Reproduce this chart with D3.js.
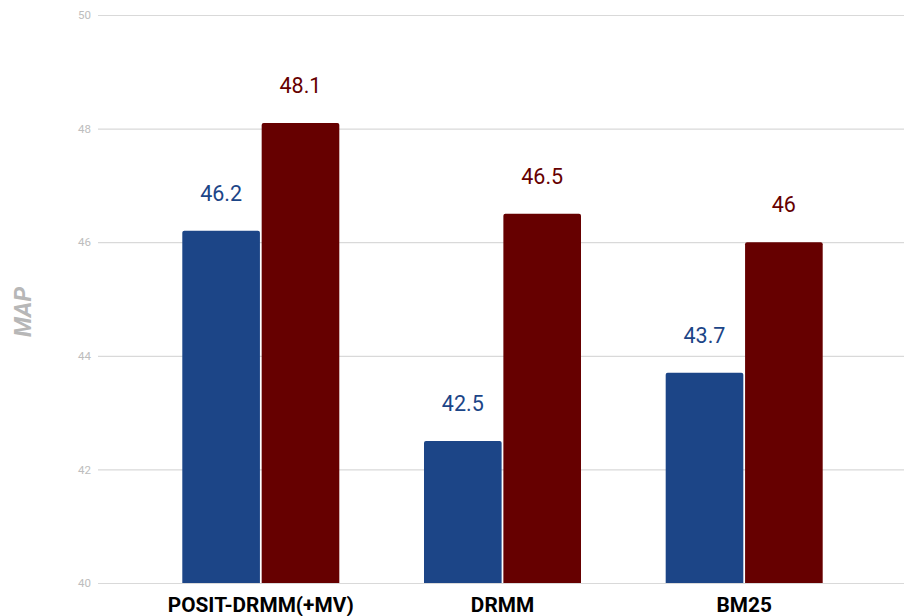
<!DOCTYPE html>
<html>
<head>
<meta charset="utf-8">
<script src="https://cdn.jsdelivr.net/npm/d3@7"></script>
<style>
  html, body { margin: 0; padding: 0; background: #fff; }
  svg { display: block; font-family: Roboto, "Noto Sans", sans-serif; }
</style>
</head>
<body>
<svg id="chart" width="904" height="616"></svg>
<script>
// Categories and MAP scores for the two series
const categories = ["POSIT-DRMM(+MV)", "DRMM", "BM25"];
const seriesA = [46.2, 42.5, 43.7];
const seriesB = [48.1, 46.5, 46.0];
const seriesColors = ["#1c4587", "#660000"];
const yTicks = [40, 42, 44, 46, 48, 50];

const svg = d3.select("#chart");
const plotLeft = 98, plotRight = 904, plotTop = 15, plotBottom = 583;

const x = d3.scaleBand().domain(categories).range([100, 905])
  .paddingInner(0.3504).paddingOuter(0.3405);
const inner = d3.scaleBand().domain([0, 1]).range([0, x.bandwidth()]).paddingInner(0.022);
const y = d3.scaleLinear().domain([40, 50]).range([plotBottom, plotTop]);

// Gridlines and y tick labels
const yAxis = d3.axisLeft(y).tickValues(yTicks).tickSize(-(plotRight - plotLeft)).tickPadding(7).tickFormat(d3.format("d"));
const gy = svg.append("g").attr("transform", `translate(${plotLeft},0)`).call(yAxis);
gy.select(".domain").remove();
gy.selectAll(".tick line").attr("stroke", "#d9d9d9").attr("stroke-width", 1.2);
gy.selectAll(".tick text").attr("fill", "#bdbdbd").attr("font-size", 11.5)
  .attr("font-family", "Roboto, sans-serif");

// Y axis title
svg.append("text")
  .attr("transform", `translate(31,312) rotate(-90)`)
  .attr("text-anchor", "middle")
  .attr("font-size", 23.5).attr("font-weight", "bold").attr("font-style", "italic")
  .attr("fill", "#b7b7b7").text("MAP");

const rows = categories.map((c, i) => ({ c, vals: [seriesA[i], seriesB[i]] }));
const groups = svg.append("g").selectAll("g").data(rows).join("g")
  .attr("transform", d => `translate(${x(d.c)},0)`);

// Bars with slightly rounded top corners
function barPath(x0, w, yTop, yBot, r) {
  return `M${x0},${yBot}V${yTop + r}Q${x0},${yTop} ${x0 + r},${yTop}H${x0 + w - r}Q${x0 + w},${yTop} ${x0 + w},${yTop + r}V${yBot}Z`;
}
groups.selectAll("path").data(d => d.vals.map((v, k) => ({ v, k }))).join("path")
  .attr("d", d => barPath(inner(d.k), inner.bandwidth(), y(d.v), y(40), 2))
  .attr("fill", d => seriesColors[d.k]);

// Value labels
groups.selectAll("text.val").data(d => d.vals.map((v, k) => ({ v, k }))).join("text")
  .attr("class", "val")
  .attr("x", d => inner(d.k) + inner.bandwidth() / 2)
  .attr("y", d => y(d.v) - 30)
  .attr("text-anchor", "middle")
  .attr("font-size", 21.5)
  .attr("fill", d => seriesColors[d.k])
  .text(d => d3.format("")(d.v));

// Category labels
svg.append("g").selectAll("text").data(categories).join("text")
  .attr("x", d => x(d) + x.bandwidth() / 2)
  .attr("y", 612)
  .attr("text-anchor", "middle")
  .attr("font-size", 20.8).attr("font-weight", "bold").attr("fill", "#000")
  .text(d => d);
</script>
</body>
</html>
